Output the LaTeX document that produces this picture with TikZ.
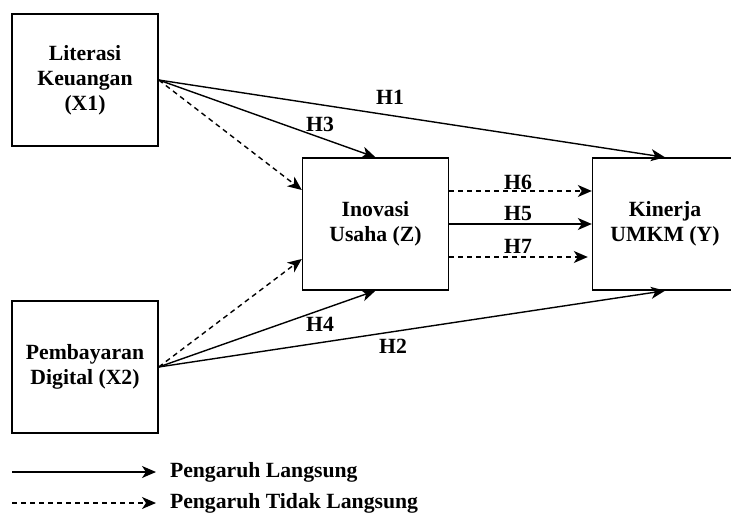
\documentclass[tikz,border=0pt]{standalone}
\usepackage{fontspec}
\setmainfont{Liberation Serif}
\usetikzlibrary{arrows.meta}

\begin{document}
\begin{tikzpicture}[
    x=1pt, y=-1pt,
    font=\fontsize{21.7}{25}\selectfont\bfseries,
    line width=1.4pt,
    var/.style = {
      shape=rectangle,
      draw,
      minimum width=146pt,
      minimum height=132pt,
      align=center,
      inner sep=0pt
    },
    langsung/.style = {-{Stealth[length=14pt,width=12pt,inset=4pt]}},
    tidak/.style = {langsung, dash pattern=on 5pt off 4pt}
    ]
    \useasboundingbox (0,0) rectangle (731,513);

    \node[var] (lit) at (85,80) {Literasi\\Keuangan\\(X1)};
    \node[var] (pem) at (85,367) {Pembayaran\\Digital (X2)};
    \node[var] (ino) at (375.5,224) {Inovasi\\Usaha (Z)};
    \node[var, minimum width=145pt] (kin) at (665,224) {Kinerja\\UMKM (Y)};

    % pengaruh langsung
    \draw[langsung] (lit.east) -- (kin.north);
    \draw[langsung] (lit.east) -- (ino.north);
    \draw[langsung] (pem.east) -- (ino.south);
    \draw[langsung] (pem.east) -- (kin.south);
    \draw[langsung] (ino.east) -- (kin.west);

    % pengaruh tidak langsung
    \draw[tidak] (lit.east) -- ([yshift=34pt]ino.west);
    \draw[tidak] (pem.east) -- ([yshift=-35pt]ino.west);
    \draw[tidak] ([yshift=33pt]ino.east) -- ([yshift=33pt]kin.west);
    \draw[tidak, shorten >=4pt] ([yshift=-33pt]ino.east) -- ([yshift=-33pt]kin.west);

    \node (h1) at (390,97) {H1};
    \node (h2) at (393,346) {H2};
    \node (h3) at (320,124) {H3};
    \node (h4) at (320,324) {H4};
    \node (h5) at (518,214) {H5};
    \node (h6) at (518,182) {H6};
    \node (h7) at (518,246) {H7};

    % keterangan
    \coordinate (l1a) at (12,472);
    \coordinate (l1b) at (156,472);
    \coordinate (l2a) at (12,503);
    \coordinate (l2b) at (156,503);
    \draw[langsung] (l1a) -- (l1b);
    \draw[tidak] (l2a) -- (l2b);
    \node[anchor=west] (ket1) at (166,472) {Pengaruh Langsung};
    \node[anchor=west] (ket2) at (166,503) {Pengaruh Tidak Langsung};
\end{tikzpicture}
\end{document}
